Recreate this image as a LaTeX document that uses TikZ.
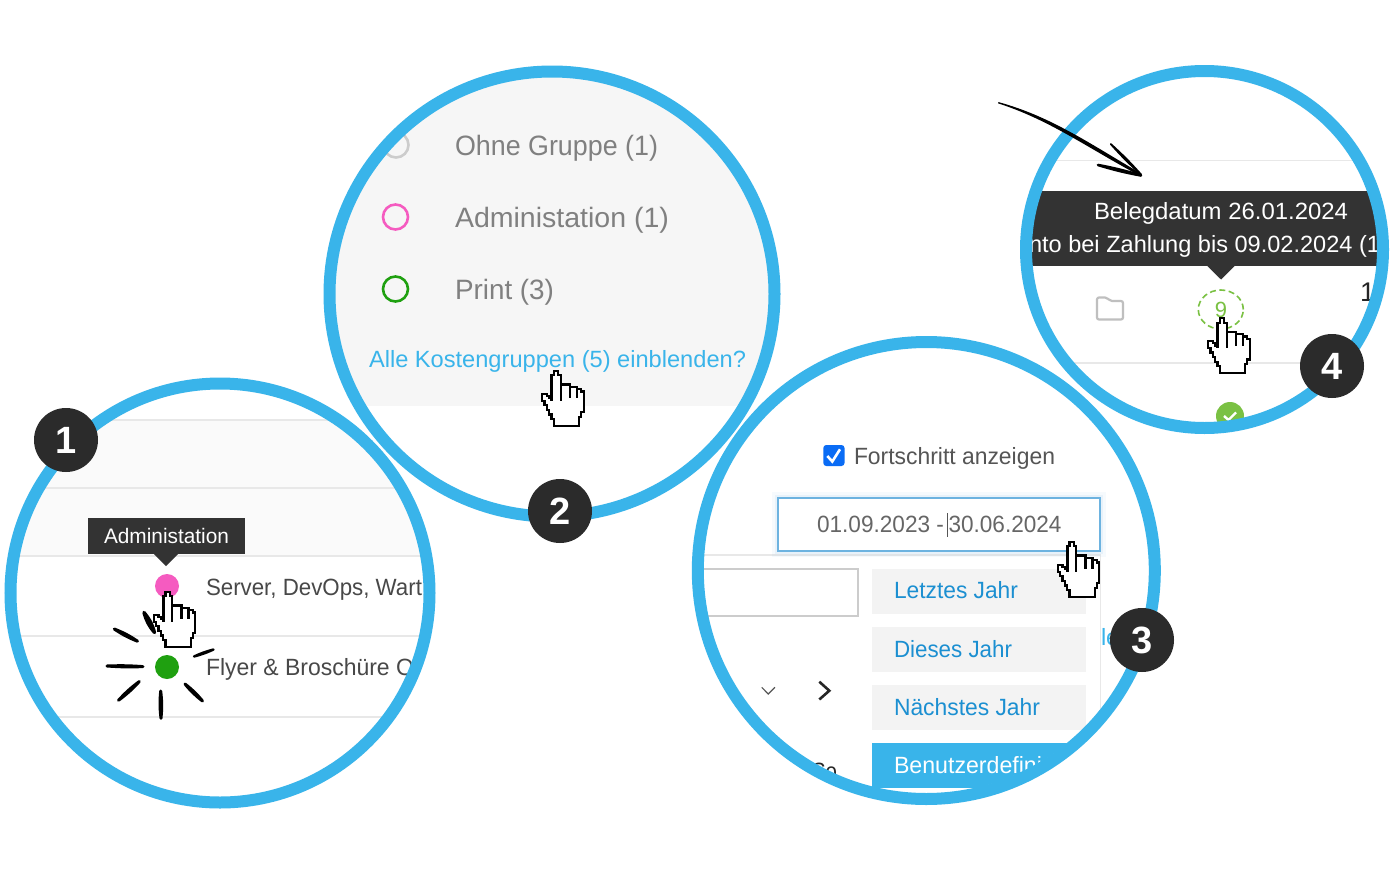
\documentclass[tikz,border=0pt]{standalone}
\usepackage{fontspec}
\usepackage{graphicx}
\setmainfont{Liberation Sans}
\definecolor{ringblue}{HTML}{39B4EA}
\definecolor{badgedark}{HTML}{2B2B2B}
\definecolor{tipdark}{HTML}{333333}
\definecolor{rulegray}{HTML}{E8E8E8}
\definecolor{panelgray}{HTML}{F6F6F6}
\definecolor{panellight}{HTML}{FAFAFA}
\definecolor{greytext}{HTML}{808080}
\definecolor{darktext}{HTML}{555555}
\definecolor{linkblue}{HTML}{1B8FD1}
\definecolor{pinkdot}{HTML}{F55BC0}
\definecolor{greendot}{HTML}{1FA010}
\definecolor{limegreen}{HTML}{7AC143}
\definecolor{btngray}{HTML}{F3F3F3}
\definecolor{checkblue}{HTML}{0A6CF5}
\definecolor{focusblue}{HTML}{6DB3E0}
\newcommand{\fittxt}[3]{\resizebox{#1pt}{\height}{\fontsize{#2pt}{#2pt}\selectfont #3}}
\newcommand{\lensmark}[4][3]{\filldraw[black,line width=#1pt,line join=round,line cap=round] (#2) to[bend left=#4] (#3) to[bend left=#4] (#2);}
\tikzset{
  txt/.style={inner sep=0pt,outer sep=0pt,anchor=base west,yshift=-0.7pt},
  ring/.style={draw=ringblue,line width=12pt,fill=none},
  rowline/.style={draw=rulegray,line width=1.8pt},
  badge/.style={circle,fill=badgedark,text=white,minimum size=64pt,inner sep=0pt,font=\fontsize{38pt}{38pt}\selectfont\bfseries},
  handcur/.pic={
    \begin{scope}[x=2.3pt,y=-2.3pt,xshift=-4.6pt]
      \draw[black,fill=white,line width=2.2pt,miter limit=2]
        (0,2)--(1,2)--(1,0)--(3,0)--(3,2)--(4,2)--(4,6)--(8,6)--(8,7)--(11,7)--(11,8)--(13,8)--(13,9)--(14,9)--(14,18)--(13,18)--(13,20)--(12,20)--(12,24)--(1,24)--(1,21)--(0,21)--(0,19)--(-1,19)--(-1,17)--(-2,17)--(-2,15)--(-3,15)--(-3,13)--(-4,13)--(-4,10)--(-2,10)--(-2,11)--(-1,11)--(-1,12)--(0,12)--cycle;
      \draw[black,line width=2.2pt] (4,6)--(4,13) (8,7)--(8,12) (11,8)--(11,12);
      \draw[black,line width=3pt] (0,2)--(0,13);
    \end{scope}
  }
}
\begin{document}
\begin{tikzpicture}[x=1pt,y=-1pt]
\useasboundingbox (0,0) rectangle (1400,870);
\fill[white] (0,0) rectangle (1400,870);

% ---------- Circle 1
\coordinate (c1) at (220,593);
\begin{scope}
  \clip (c1) circle (205pt);
  \fill[panellight] (0,420) rectangle (440,556);
  \foreach \yy in {420,488,556,636,717} \draw[rowline] (0,\yy) -- (440,\yy);
  \node[txt,text=darktext!85!black] (srv) at (206,595) {\fittxt{216}{23.5}{Server, DevOps, Wart}};
  \node[txt,text=darktext!85!black] (fly) at (206,675) {\fittxt{208}{23.5}{Flyer \& Broschüre O}};
  \fill[tipdark] (88,518) rectangle (245,554);
  \fill[tipdark] (154,554) -- (166,566) -- (178,554) -- cycle;
  \node[txt,text=white] (adm) at (104,542.5) {\fittxt{125}{21}{Administation}};
  \node[circle,fill=pinkdot,minimum size=24pt,inner sep=0pt] (pink) at (167,586) {};
  \node[circle,fill=greendot,minimum size=24pt,inner sep=0pt] (green) at (167,667) {};
\end{scope}
\draw[ring] (c1) circle (209.5pt);

% ---------- Circle 2
\coordinate (c2) at (552,294);
\begin{scope}
  \clip (c2) circle (217pt);
  \fill[panelgray] (320,60) rectangle (790,406);
  \draw[draw=black!20,line width=2.6pt] (396,145) circle (12.5pt);
  \draw[draw=pinkdot,line width=2.6pt] (395.5,217) circle (12.5pt);
  \draw[draw=greendot,line width=2.6pt] (395.5,289) circle (12.5pt);
  \node[txt,text=greytext] (ohne) at (455,155) {\fittxt{203}{28}{Ohne Gruppe (1)}};
  \node[txt,text=greytext] (admi) at (455,226.7) {\fittxt{214}{28}{Administation (1)}};
  \node[txt,text=greytext] (prnt) at (455,298.3) {\fittxt{99}{28}{Print (3)}};
  \node[txt,text=ringblue] (alle) at (369,366.7) {\fittxt{377}{23.5}{Alle Kostengruppen (5) einblenden?}};
\end{scope}
\draw[ring] (c2) circle (222.5pt);

% ---------- Circle 3
\coordinate (c3) at (926.3,570.5);
\begin{scope}
  \clip (c3) circle (223pt);
  \draw[rowline,line width=1.4pt] (690,555) -- (1100.5,555) -- (1100.5,730);
  % focus glow
  \fill[focusblue,opacity=.06] (772,492) rectangle (1106,557);
  \fill[focusblue,opacity=.10] (775,495) rectangle (1103,554);
  \draw[focusblue,fill=white,line width=1.8pt] (778,498) rectangle (1100,551);
  \fill[checkblue,rounded corners=3pt] (823.3,445) rectangle (844.5,466);
  \draw[white,line width=2.6pt] (827.3,456) -- (832.3,461.5) -- (840,449.3);
  \node[txt,text=darktext] (fort) at (854,464) {\fittxt{201}{23.5}{Fortschritt anzeigen}};
  \node[txt,text=darktext!90] (d1) at (817,531.7) {\fittxt{127}{23.5}{01.09.2023 -}};
  \node[txt,text=darktext!90] (d2) at (948.5,531.7) {\fittxt{113}{23.5}{30.06.2024}};
  \draw[darktext,line width=1.6pt] (947.5,513) -- (947.5,537);
  \draw[black!20,fill=white,line width=1.8pt] (680,569) rectangle (858,616);
  \fill[btngray] (872,569) rectangle (1086,613.5);
  \fill[btngray] (872,627) rectangle (1086,671.5);
  \fill[btngray] (872,685) rectangle (1086,730);
  \fill[ringblue] (872,743) rectangle (1086,788);
  \node[txt,text=linkblue] (b1) at (894,598) {\fittxt{124}{23.5}{Letztes Jahr}};
  \node[txt,text=linkblue] (b2) at (894,656.7) {\fittxt{118}{23.5}{Dieses Jahr}};
  \node[txt,text=linkblue] (b3) at (894,715) {\fittxt{146}{23.5}{Nächstes Jahr}};
  \node[txt,text=white] (b4) at (894,773) {\fittxt{148}{23.5}{Benutzerdefini}};
  \node[txt,text=ringblue] (le) at (1101,645) {\fontsize{23.5pt}{23.5pt}\selectfont le};
  \node[txt,text=black!85] (so) at (812,778.4) {\fittxt{25}{23.5}{So}};
  \draw[darktext,line width=1.2pt] (761.7,687.3) -- (768.3,694) -- (775,687.3);
  \draw[black!85,line width=2.6pt] (819.3,681.7) -- (829.3,690.7) -- (819.3,699.5);
\end{scope}
\draw[ring] (c3) circle (228.5pt);

% ---------- Circle 4
\coordinate (c4) at (1204.5,249.5);
\begin{scope}
  \clip (c4) circle (173pt);
  \draw[rowline] (1020,160.5) -- (1390,160.5);
  \draw[rowline] (1020,363) -- (1390,363);
  \fill[tipdark] (1020,191) rectangle (1390,265.7);
  \fill[tipdark] (1207,265.7) -- (1221,279.5) -- (1235,265.7) -- cycle;
  \node[txt,text=white] (bd) at (1094,218.3) {\fittxt{254}{23.5}{Belegdatum 26.01.2024}};
  \node[txt,text=white] (sk) at (1029,251.7) {\fittxt{351}{23.5}{nto bei Zahlung bis 09.02.2024 (1}};
  \node[txt,text=black!85] (one) at (1360,300.7) {\fontsize{27pt}{27pt}\selectfont 1};
  \draw[black!25,line width=2.2pt,rounded corners=2pt,line join=round]
    (1097,297.5) -- (1107,297.5) -- (1110,301) -- (1123,301) -- (1123,319.5) -- (1097,319.5) -- cycle;
  \draw[limegreen,line width=1.6pt,dash pattern=on 6pt off 3.5pt] (1220.8,309.5) ellipse [x radius=22.5pt,y radius=19.5pt];
  \node[txt,text=limegreen,anchor=base] (nine) at (1221,317) {\fontsize{22pt}{22pt}\selectfont 9};
  \fill[limegreen] (1230,416) circle (14pt);
  \draw[white,line width=2.4pt] (1224,416) -- (1228.5,420) -- (1236,412.5);
\end{scope}
\draw[ring] (c4) circle (178.5pt);

% ---------- Number badges
\node[badge] (n1) at (66,440) {\raisebox{-1pt}{1}};
\node[badge] (n2) at (560,511) {\raisebox{-1pt}{2}};
\node[badge] (n3) at (1142,640) {\raisebox{-1pt}{3}};
\node[badge] (n4) at (1332,366) {\raisebox{-1pt}{4}};

% ---------- Sketched marks
\lensmark{114.3,629}{137.5,641.2}{6}
\lensmark[3]{107,666}{143,666.6}{3}
\lensmark{139.3,681.5}{118.5,700.3}{5}
\lensmark{160.7,691}{161,718.3}{6}
\lensmark{185,684}{202.5,701}{6}
\lensmark[2.4]{194,656.5}{213.5,649.5}{5}
\lensmark[3.4]{144,612.5}{154.5,632.5}{12}

% ---------- Hand cursors
\pic at (167.7,591.7) {handcur};
\pic at (556,370.7) {handcur};
\pic at (1071.7,541.7) {handcur};
\pic at (1222,318) {handcur};

% ---------- Hand-drawn arrow
\coordinate (ar0) at (998.3,102.7);
\coordinate (ar1) at (1141,175);
\filldraw[black,line width=1.3pt,line join=round] (ar0) .. controls (1050,117) and (1086,142) .. (1141,174.3) -- (1141,175.7) .. controls (1084,145) and (1050,119.5) .. (ar0);
\lensmark[1.8]{1110.7,144}{1141,174.5}{3}
\lensmark[2.6]{1098,165}{1141,175.5}{3}
\end{tikzpicture}
\end{document}
